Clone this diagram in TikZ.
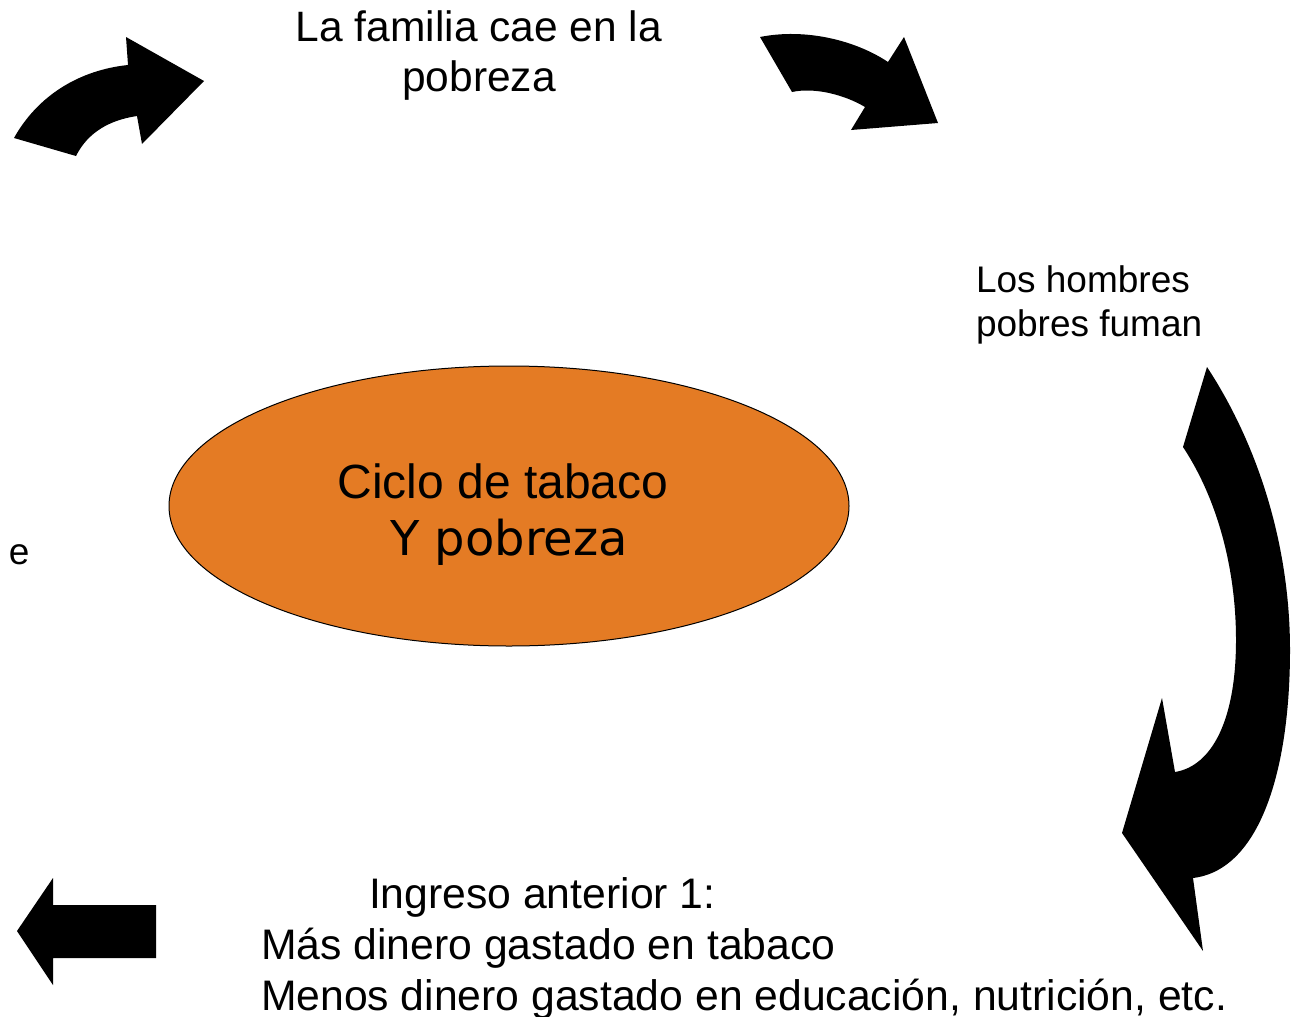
\documentclass[tikz,border=0pt]{standalone}
\usepackage{fontspec}
\setmainfont{Liberation Sans}
\newfontfamily\dejavu{DejaVu Sans}
\definecolor{ovalorange}{RGB}{228,123,36}
\begin{document}
\begin{tikzpicture}[x=1pt,y=-1pt,
  lbl/.style={inner sep=0pt, outer sep=0pt, text=black},
  blockarrow/.style={fill=black, draw=none}]
\useasboundingbox (0,0) rectangle (1293,1017);

% central ellipse
\draw[fill=ovalorange, draw=black, line width=1pt] (509,506) ellipse [x radius=340, y radius=140];
\node[lbl, anchor=base] (c1) at (503,498) {\fontsize{48}{56}\selectfont Ciclo de tabaco};
\node[lbl, anchor=base] (c2) at (509,555) {\dejavu\fontsize{48}{56}\selectfont Y pobreza};

% texts
\node[lbl, anchor=base, font=\fontsize{42.5}{50}\selectfont] (top1) at (479,41) {La familia cae en la};
\node[lbl, anchor=base, font=\fontsize{42.5}{50}\selectfont] (top2) at (479,91) {pobreza};
\node[lbl, anchor=base west, font=\fontsize{37}{44}\selectfont] (men1) at (976,292) {Los hombres};
\node[lbl, anchor=base west, font=\fontsize{37}{44}\selectfont] (men2) at (976,336) {pobres fuman};
\node[lbl, anchor=base west, font=\fontsize{37}{44}\selectfont] (e) at (9,564) {e};
\node[lbl, anchor=base west, font=\fontsize{42.7}{51}\selectfont] (b1) at (369,908) {Ingreso anterior 1:};
\node[lbl, anchor=base west, font=\fontsize{42.7}{51}\selectfont] (b2) at (261,959) {Más dinero gastado en tabaco};
\node[lbl, anchor=base west, font=\fontsize{42.7}{51}\selectfont] (b3) at (261,1010) {Menos dinero gastado en educación, nutrición, etc.};

% top-left curved arrow
\fill[blockarrow] (14,138) .. controls (38,95) and (80,70) .. (128,65)
  -- (126,37) -- (204,81) -- (142,144) -- (137,116)
  .. controls (110,120) and (88,132) .. (76,156) -- cycle;

% top-right curved arrow
\fill[blockarrow] (760,37) .. controls (805,28) and (855,40) .. (888,62)
  -- (904,37) -- (938,123) -- (851,130) -- (865,107)
  .. controls (845,95) and (815,87) .. (792,92) -- cycle;

% right big curved arrow
\fill[blockarrow] (1207,367)
  .. controls (1255,440) and (1290,540) .. (1290,650)
  .. controls (1290,770) and (1260,870) .. (1193,878)
  -- (1203,951) -- (1122,833) -- (1162,698) -- (1175,772)
  .. controls (1212,766) and (1236,720) .. (1236,640)
  .. controls (1236,570) and (1218,500) .. (1183,447) -- cycle;

% bottom-left straight arrow
\fill[blockarrow] (17,931) -- (53,878) -- (53,905) -- (156,905) -- (156,958) -- (53,958) -- (53,985) -- cycle;
\end{tikzpicture}
\end{document}
